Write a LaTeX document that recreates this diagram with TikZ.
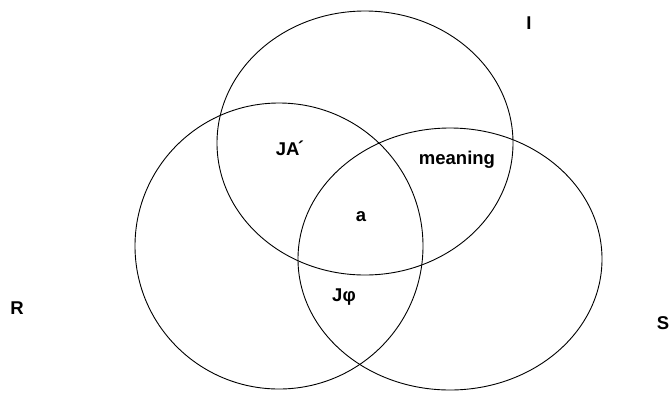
\documentclass[tikz,border=0pt]{standalone}
\usepackage{fontspec}
\setmainfont{Liberation Sans}

\begin{document}
\begin{tikzpicture}[x=1pt, y=-1pt, every node/.style={font=\fontsize{18.5}{21}\selectfont\bfseries}, set/.style={line width=0.9pt}]
	\useasboundingbox (0,0) rectangle (671,392);
	% the three sets I, R and S
	\draw[set] (365,143) ellipse [x radius=148, y radius=132];
	\draw[set] (279,246) ellipse [x radius=144, y radius=143];
	\draw[set] (450,259) ellipse [x radius=152, y radius=131];
	% names of the sets
	\node (setI) at (529,23) {I};
	\node (setR) at (17,308) {R};
	\node (setS) at (663,323) {S};
	% the regions where they meet
	\node (ja) at (290,148) {JA\kern-1.5pt\raisebox{1pt}{´}};
	\node (meaning) at (457,160) {meaning};
	\node (a) at (361,217) {a};
	\node (jphi) at (344,297) {Jφ};
\end{tikzpicture}
\end{document}
